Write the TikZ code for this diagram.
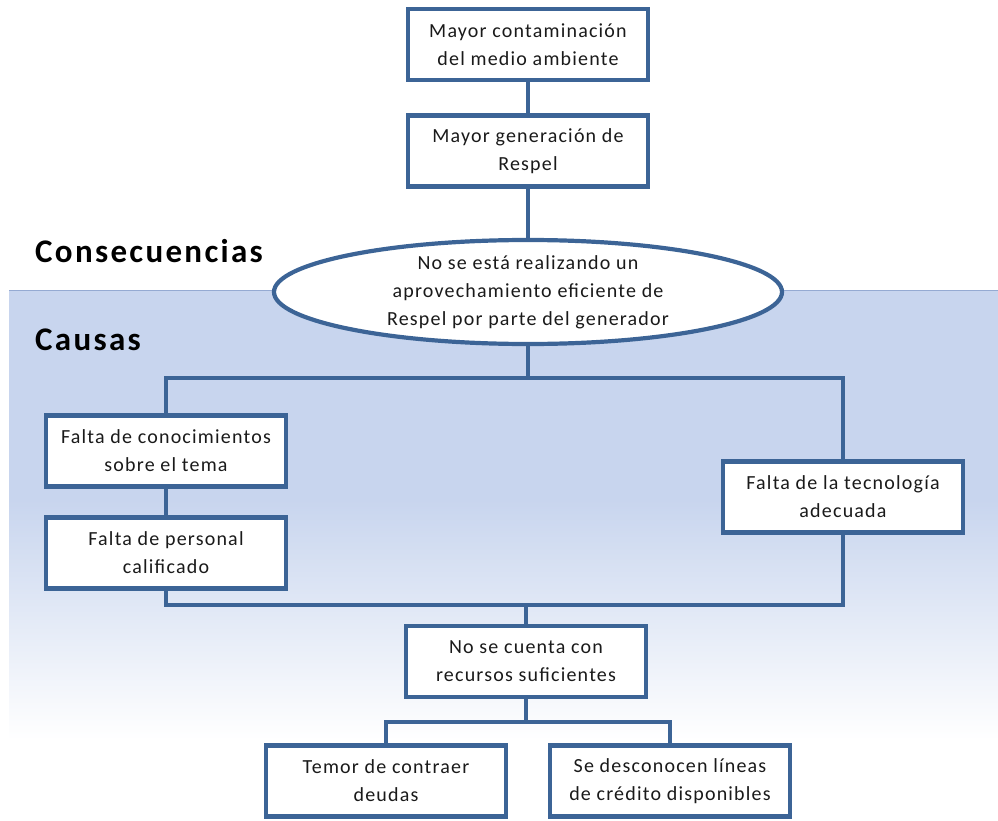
\documentclass[tikz,border=0pt]{standalone}
\usepackage{fontspec}
\setmainfont{Carlito}[LetterSpace=6]
\newfontfamily\headfont{Carlito}[LetterSpace=7]
\usetikzlibrary{shapes.geometric}
\definecolor{edge}{HTML}{3C6496}
\definecolor{bgblue}{HTML}{C8D5EE}
\definecolor{bgline}{HTML}{95AAD2}
\definecolor{txt}{HTML}{1A1A1A}
\tikzset{
  box/.style={draw=edge, line width=4.5pt, fill=white, minimum width=240pt, minimum height=71pt,
    align=center, font=\fontsize{20}{28}\selectfont, text=txt, inner sep=2pt},
  oval/.style={ellipse, draw=edge, line width=4.2pt, fill=white, minimum width=508pt, minimum height=104pt,
    align=center, font=\fontsize{20}{28}\selectfont, text=txt, inner sep=0pt},
  link/.style={draw=edge, line width=3.5pt},
  head/.style={anchor=base west, font=\headfont\bfseries\fontsize{33}{38}\selectfont, text=black, inner sep=0pt}
}
\begin{document}
\begin{tikzpicture}[x=1pt,y=-1pt]
\useasboundingbox (0,0) rectangle (998,821);
% background band
\fill[bgblue] (9,290) rectangle (998,500);
\shade[top color=bgblue, bottom color=white] (9,499.5) rectangle (998,740);
\draw[bgline, line width=0.8pt] (9,290) -- (998,290);

% nodes
\node[box] (m1) at (528,44.5) {Mayor contaminación\\del medio ambiente};
\node[box] (m2) at (528,151) {Mayor generación de\\Respel};
\node[head] (hcons) at (35,262) {Consecuencias};
\node[head] (hcaus) at (35,350) {Causas};

\coordinate (jt) at (528,378);
\coordinate (jb) at (526,605);
\coordinate (jr) at (526,722);

\node[box] (c1) at (166,451) {Falta de conocimientos\\sobre el tema};
\node[box] (c2) at (166,553) {Falta de personal\\calificado};
\node[box] (c3) at (843,497) {Falta de la tecnología\\adecuada};
\node[box] (r) at (526,661.5) {No se cuenta con\\recursos suficientes};
\node[box] (t1) at (386,781) {Temor de contraer\\deudas};
\node[box] (t2) at (670,781) {Se desconocen líneas\\de crédito disponibles};
\node[oval] (e) at (528,292) {No se está realizando un\\aprovechamiento eficiente de\\Respel por parte del generador};

\draw[link] (m1.south) -- (m2.north);
\draw[link] (m2.south) -- (e.north);
\draw[link] (e.south) -- (jt);
\draw[link] (jt) -| (c1.north);
\draw[link] (jt) -| (c3.north);
\draw[link] (c1.south) -- (c2.north);
\draw[link] (c2.south) |- (jb);
\draw[link] (c3.south) |- (jb);
\draw[link] (jb) -- (r.north);
\draw[link] (r.south) -- (jr);
\draw[link] (jr) -| (t1.north);
\draw[link] (jr) -| (t2.north);
\end{tikzpicture}
\end{document}
